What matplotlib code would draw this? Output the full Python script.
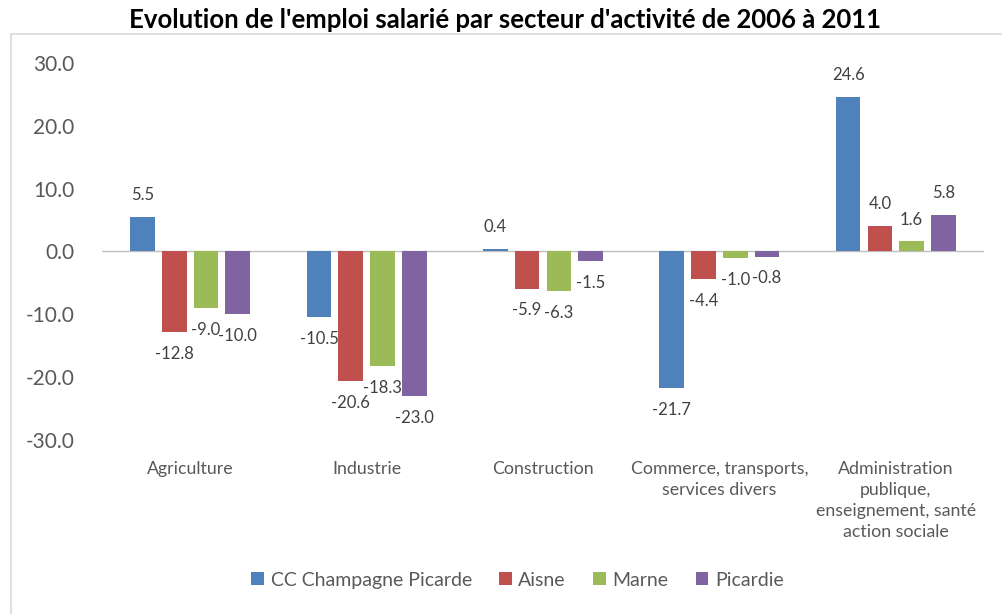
import matplotlib
matplotlib.use("Agg")
import matplotlib.pyplot as plt
import matplotlib.patches as mpatches
import numpy as np

plt.rcParams['font.family'] = ['Lato', 'DejaVu Sans']

categories = ["Agriculture", "Industrie", "Construction",
              "Commerce, transports,\nservices divers",
              "Administration\npublique,\nenseignement, santé\naction sociale"]
series_names = ["CC Champagne Picarde", "Aisne", "Marne", "Picardie"]
cc_values = [5.5, -10.5, 0.4, -21.7, 24.6]
aisne_values = [-12.8, -20.6, -5.9, -4.4, 4.0]
marne_values = [-9.0, -18.3, -6.3, -1.0, 1.6]
picardie_values = [-10.0, -23.0, -1.5, -0.8, 5.8]
colors = ["#4F81BD", "#C0504D", "#9BBB59", "#8064A2"]
yticks = [-30, -20, -10, 0, 10, 20, 30]

series = [cc_values, aisne_values, marne_values, picardie_values]

fig = plt.figure(figsize=(10.03, 6.14), dpi=100)
ax = fig.add_axes([0.1017, 0.2834, 0.8793, 0.6140])

x = np.arange(len(categories))
width = 0.14
step = 0.18
offsets = [-1.5 * step, -0.5 * step, 0.5 * step, 1.5 * step]

for vals, name, col, off in zip(series, series_names, colors, offsets):
    bars = ax.bar(x + off, vals, width, color=col, label=name, zorder=2)
    for b, v in zip(bars, vals):
        cx = b.get_x() + b.get_width() / 2
        if v >= 0:
            ax.annotate(f"{v:.1f}", (cx, v), xytext=(0, 10), textcoords="offset points",
                        ha="center", va="bottom", fontsize=12, color="#404040")
        else:
            ax.annotate(f"{v:.1f}", (cx, v), xytext=(0, -10), textcoords="offset points",
                        ha="center", va="top", fontsize=12, color="#404040")

ax.axhline(0, color="#BFBFBF", linewidth=1, zorder=1)
ax.set_ylim(-30, 30)
ax.set_xlim(-0.5, len(categories) - 0.5)
ax.set_yticks(yticks)
ax.set_yticklabels([f"{t:.1f}" for t in yticks], fontsize=15, color="#595959")
ax.set_xticks(x)
ax.set_xticklabels(categories, fontsize=12.8, color="#595959", linespacing=1.38, va="top")
ax.tick_params(axis="both", length=0)
ax.tick_params(axis="x", pad=15)
ax.tick_params(axis="y", pad=20)
for s in ax.spines.values():
    s.set_visible(False)

fig.text(0.503, 0.968, "Evolution de l'emploi salarié par secteur d'activité de 2006 à 2011",
         ha="center", va="center", fontsize=18.5, fontweight="bold", color="black")

leg = fig.legend(loc="center", bbox_to_anchor=(0.516, 0.055), ncol=4, frameon=False,
                 fontsize=14, handlelength=0.65, handleheight=0.65, handletextpad=0.35,
                 columnspacing=1.4)
for t in leg.get_texts():
    t.set_color("#595959")

fig.patches.append(mpatches.Rectangle((0.011, -0.1), 1.2, 0.1 + 1 - 34 / 614,
                                      transform=fig.transFigure, fill=False,
                                      edgecolor="#D9D9D9", linewidth=1.2))

fig.savefig("out.png", dpi=100)
